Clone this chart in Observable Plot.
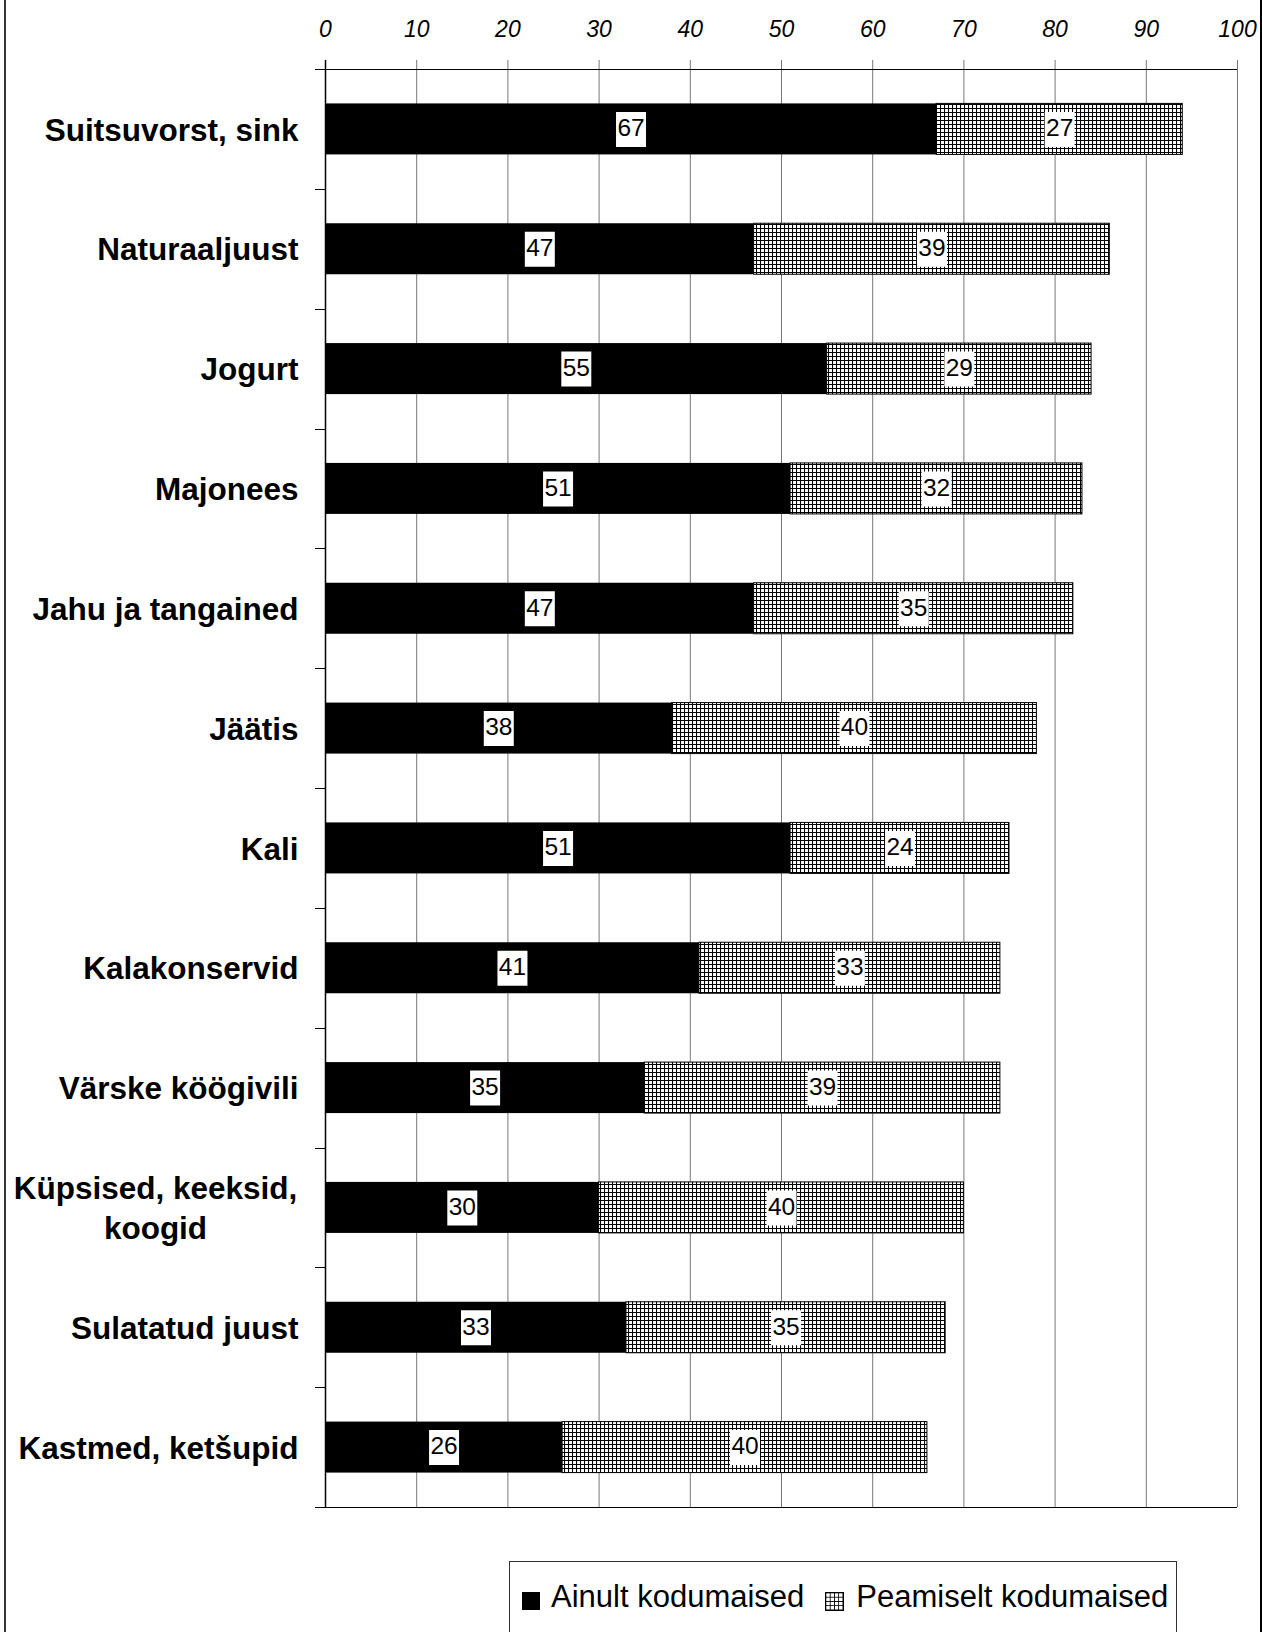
<!DOCTYPE html>
<html>
<head>
<meta charset="utf-8">
<script src="https://cdn.jsdelivr.net/npm/d3@7"></script>
<script src="https://cdn.jsdelivr.net/npm/@observablehq/plot@0.6"></script>
<style>
html, body { margin: 0; padding: 0; background: #fff; overflow: hidden; }
body { width: 1262px; height: 1632px; position: relative; font-family: "Liberation Sans", Arial, sans-serif; }
#chart { position: absolute; left: 0; top: 0; }
#frame { position: absolute; left: 4px; top: 0; width: 1254px; height: 1632px; border-left: 2px solid #333; border-right: 2px solid #000; pointer-events: none; }
#legend { position: absolute; left: 509px; top: 1561px; width: 668px; height: 100px; border: 1px solid #333; box-sizing: border-box; background: #fff; }
#legend .row { position: absolute; left: 11px; top: 17px; height: 36px; display: flex; align-items: flex-start; }
#legend .sw { margin-top: 13px; box-sizing: border-box; }
#legend .lab { font-size: 31px; line-height: 36px; color: #000; white-space: nowrap; }
</style>
</head>
<body>
<div id="chart"></div>
<div id="legend"><div class="row"></div></div>
<div id="frame"></div>
<script>
// ---- data ----
const categories = [
  "Suitsuvorst, sink",
  "Naturaaljuust",
  "Jogurt",
  "Majonees",
  "Jahu ja tangained",
  "Jäätis",
  "Kali",
  "Kalakonservid",
  "Värske köögivili",
  "Küpsised, keeksid, koogid",
  "Sulatatud juust",
  "Kastmed, ketšupid"
];
const ainultKodumaised =    [67, 47, 55, 51, 47, 38, 51, 41, 35, 30, 33, 26];
const peamiseltKodumaised = [27, 39, 29, 32, 35, 40, 24, 33, 39, 40, 35, 40];
const seriesNames = ["Ainult kodumaised", "Peamiselt kodumaised"];
const xTicks = [0, 10, 20, 30, 40, 50, 60, 70, 80, 90, 100];
const multiLineCategory = "Küpsised, keeksid, koogid";
const multiLineText = "Küpsised, keeksid,\nkoogid";

// ---- derived tables ----
const rows = categories.map((c, i) => ({cat: c, a: ainultKodumaised[i], p: peamiseltKodumaised[i]}));
const labels = rows.flatMap(r => [
  {cat: r.cat, mid: r.a / 2, v: r.a},
  {cat: r.cat, mid: r.a + r.p / 2, v: r.p}
]);

const FONT = "'Liberation Sans', Arial, sans-serif";

// pattern defs
function patternDefs() {
  const defs = d3.create("svg:defs");
  const pat = defs.append("pattern").attr("id", "hatch")
    .attr("patternUnits", "userSpaceOnUse").attr("width", 4).attr("height", 4);
  pat.append("rect").attr("width", 4).attr("height", 4).attr("fill", "#fff");
  pat.append("path").attr("d", "M0,0.5H4M0.5,0V4").attr("stroke", "#000").attr("stroke-width", 1.1).attr("fill", "none");
  return defs.node();
}

// top/bottom frame lines and band-boundary ticks on the left
function frameTicks(index, scales, values, dimensions) {
  const x = scales.x, y = scales.y;
  const step = typeof y.step === "function" ? y.step() : scales.scales.y.step;
  const bw = typeof y.bandwidth === "function" ? y.bandwidth() : scales.scales.y.bandwidth;
  const x0 = x(0), x1 = x(100);
  const bounds = categories.map(c => y(c) + bw / 2 - step / 2);
  bounds.push(y(categories[categories.length - 1]) + bw / 2 + step / 2);
  let d = "";
  bounds.forEach((b, i) => {
    const yy = Math.round(b) + 0.5;
    const end = (i === 0 || i === bounds.length - 1) ? x1 : x0;
    d += `M${x0 - 10},${yy}H${end}`;
  });
  const g = d3.create("svg:g");
  g.append("path").attr("d", d).attr("stroke", "#000").attr("stroke-width", 1).attr("fill", "none");
  return g.node();
}

const boxSymbol = {
  draw(context, size) {
    context.rect(-15, -17.5, 30, 35);
  }
};

const p = 0.5744;
const plot = Plot.plot({
  width: 1262,
  height: 1545,
  marginTop: 69,
  marginBottom: 38,
  marginLeft: 325,
  marginRight: 25,
  style: {fontFamily: FONT, background: "transparent", color: "#000"},
  x: {domain: [0, 100]},
  y: {domain: categories, paddingInner: p, paddingOuter: p / 2, round: false},
  marks: [
    patternDefs,
    Plot.ruleX(xTicks.filter(t => t !== 0), {x: d => d, stroke: "#777", strokeOpacity: 1, insetTop: -9}),
    Plot.barX(rows, {y: "cat", x1: 0, x2: "a", fill: "#000"}),
    Plot.barX(rows, {y: "cat", x1: "a", x2: d => d.a + d.p, fill: "url(#hatch)", stroke: "#000", strokeWidth: 1}),
    Plot.ruleX([0], {x: d => d, stroke: "#000", strokeWidth: 1.5, insetTop: -9}),
    frameTicks,
    Plot.axisX({anchor: "top", ticks: xTicks, tickSize: 0, tickPadding: 33, fontSize: 23, fontStyle: "italic", label: null, tickFormat: d => String(d)}),
    Plot.axisY({anchor: "left", tickSize: 0, tickPadding: 27, fontSize: 31.5, fontWeight: "bold", label: null, dy: 1,
      tickFormat: c => c === multiLineCategory ? "" : c}),
    Plot.text([multiLineCategory], {y: d => d, text: () => multiLineText, frameAnchor: "left", textAnchor: "middle",
      dx: -170, dy: -2, fontSize: 31.5, fontWeight: "bold", lineHeight: 1.27, fill: "#000"}),
    Plot.dot(labels, {x: "mid", y: "cat", symbol: boxSymbol, r: 1, fill: "#fff", stroke: "none"}),
    Plot.text(labels, {x: "mid", y: "cat", text: d => String(d.v), fontSize: 24.5, fill: "#000", dy: -1})
  ]
});
document.getElementById("chart").appendChild(plot);

// legend
const row = document.querySelector("#legend .row");
seriesNames.forEach((name, i) => {
  const sw = document.createElement("div");
  sw.className = "sw";
  if (i === 0) {
    sw.style.cssText = "width:18px;height:18px;background:#000;margin-left:1px;margin-right:11px;";
  } else {
    sw.style.cssText = "width:19px;height:19px;border:1px solid #000;margin-left:21px;margin-right:12px;" +
      "background-color:#fff;background-image:linear-gradient(to right,#000 1px,transparent 1px),linear-gradient(to bottom,#000 1px,transparent 1px);" +
      "background-size:4.25px 4.25px;background-position:-0.5px -0.5px;";
  }
  const lab = document.createElement("span");
  lab.className = "lab";
  lab.textContent = name;
  row.appendChild(sw);
  row.appendChild(lab);
});
</script>
</body>
</html>
